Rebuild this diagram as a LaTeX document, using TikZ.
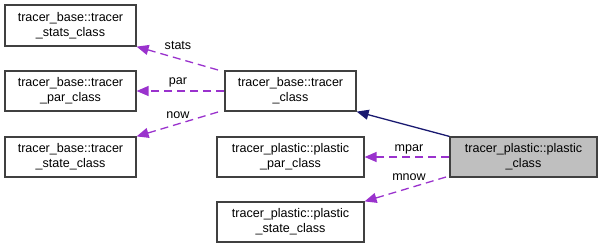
\documentclass[tikz,border=0pt]{standalone}
\usepackage{fontspec}
\setmainfont{Liberation Sans}
\usetikzlibrary{arrows.meta}
\definecolor{edgepurple}{HTML}{9A32CD}
\definecolor{inhblue}{HTML}{191970}
\definecolor{boxline}{HTML}{404040}
\begin{document}
\begin{tikzpicture}[x=1bp,y=-1bp,
  cls/.style={draw=boxline,line width=1.2bp,fill=white,inner sep=0pt,align=center,
    font=\fontsize{12.6}{15}\selectfont},
  usage/.style={draw=edgepurple,dashed,dash pattern=on 8bp off 5bp,line width=1.3bp,
    -{Triangle[length=12bp,width=10bp]}},
  inherit/.style={draw=inhblue,line width=1.3bp,-{Triangle[length=12bp,width=10bp]}},
  lbl/.style={font=\fontsize{12.6}{15}\selectfont,inner sep=1bp}]
\useasboundingbox (0,0) rectangle (603,248);
% class boxes
\node[cls,minimum width=131bp,minimum height=41bp] (stats) at (70.5,25.5) {tracer\_base::tracer\\\_stats\_class};
\node[cls,minimum width=131bp,minimum height=40bp] (par) at (70.5,91) {tracer\_base::tracer\\\_par\_class};
\node[cls,minimum width=131bp,minimum height=40bp] (state) at (70.5,157) {tracer\_base::tracer\\\_state\_class};
\node[cls,minimum width=131bp,minimum height=40bp] (tracer) at (290.5,91) {tracer\_base::tracer\\\_class};
\node[cls,minimum width=147bp,minimum height=40bp] (ppar) at (290.5,157) {tracer\_plastic::plastic\\\_par\_class};
\node[cls,minimum width=147bp,minimum height=40bp] (pstate) at (290.5,222) {tracer\_plastic::plastic\\\_state\_class};
\node[cls,fill={rgb,255:red,191;green,191;blue,191},minimum width=147bp,minimum height=40bp] (plastic) at (523.5,157) {tracer\_plastic::plastic\\\_class};
% connector end points
\coordinate (sA) at (218,70);
\coordinate (pA) at (224,91);
\coordinate (nA) at (218,112);
\coordinate (mpA) at (449,157);
\coordinate (mnA) at (446,177);
% connectors
\draw[usage] (sA) -- (stats.south east);
\draw[usage] (pA) -- (par.east);
\draw[usage] (nA) -- (state.north east);
\draw[inherit] (plastic.north west) -- (tracer.south east);
\draw[usage] (mpA) -- (ppar.east);
\draw[usage] (mnA) -- (pstate.north east);
% labels
\node[lbl] (lstats) at (178,46) {stats};
\node[lbl] (lpar) at (178,82) {par};
\node[lbl] (lnow) at (178,115) {now};
\node[lbl] (lmpar) at (409,149) {mpar};
\node[lbl] (lmnow) at (409,177) {mnow};
\end{tikzpicture}
\end{document}
